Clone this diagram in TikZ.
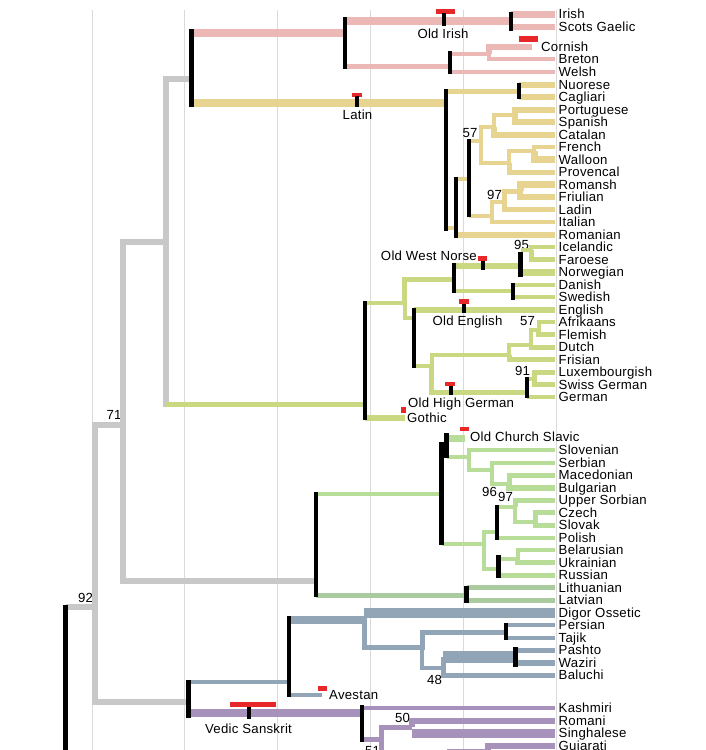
\documentclass[tikz,border=0pt]{standalone}
\usepackage{fontspec}
\newfontfamily\treefont{Liberation Sans}[LetterSpace=2]
\definecolor{celt}{RGB}{235,184,182}
\definecolor{roma}{RGB}{232,212,145}
\definecolor{germ}{RGB}{202,216,130}
\definecolor{slav}{RGB}{184,221,152}
\definecolor{balt}{RGB}{170,202,160}
\definecolor{iran}{RGB}{145,165,182}
\definecolor{indic}{RGB}{166,146,186}
\definecolor{trunkgray}{RGB}{200,200,200}
\definecolor{gridgray}{RGB}{218,218,218}
\definecolor{datered}{RGB}{232,40,40}
\tikzset{
  branch/.style={line width=#1},
  branch/.default=4,
  trunk/.style={draw=trunkgray, line width=5.5pt},
  knot/.style={draw=black, line width=4.5pt},
  gridline/.style={draw=gridgray, line width=1pt},
  lang/.style={anchor=west, inner xsep=3.5pt, inner ysep=0pt, text height=9.5pt, text depth=0pt,
               font=\treefont\fontsize{13.2}{13.2}\selectfont},
  anc/.style={lang, anchor=center, inner xsep=0pt},
}
\begin{document}
\begin{tikzpicture}[x=1pt,y=-1pt]
\path[use as bounding box] (0,0) rectangle (705,750);
\clip (0,0) rectangle (705,750);
% time axis
\foreach \gx in {92,184.5,277.5,370.5,463,556}
  \draw[gridline] (\gx,10) -- (\gx,760);

% splits
\coordinate (root)  at (65.5,607);
\coordinate (n92)   at (95,607);
\coordinate (n71)   at (123,425);
\coordinate (nw)    at (166,242);
\coordinate (ci)    at (191.5,79);
\coordinate (cel)   at (345,33);
\coordinate (gael)  at (511,21);
\coordinate (brit)  at (450,66);
\coordinate (bret)  at (489,53.5);
\coordinate (corn)  at (532,47);
\coordinate (ital)  at (446,103);
\coordinate (sard)  at (519,91);
\coordinate (rom1)  at (456,228);
\coordinate (rom2)  at (469,178.5);
\coordinate (wrom)  at (480.5,141);
\coordinate (ibr)   at (494,127);
\coordinate (pspan) at (515,115);
\coordinate (gallo) at (509,162.5);
\coordinate (oil)   at (534,150.5);
\coordinate (it)    at (492,216);
\coordinate (rhaet) at (504,202);
\coordinate (rf)    at (520,191);
\coordinate (gmc)   at (365,404);
\coordinate (nwg)   at (404.5,302.5);
\coordinate (nord)  at (454,279.5);
\coordinate (wn)    at (520.5,266);
\coordinate (ins)   at (531,250);
\coordinate (en)    at (513,291);
\coordinate (wg)    at (414,317.5);
\coordinate (cwg)   at (431.5,365.5);
\coordinate (frank) at (509,354.5);
\coordinate (lf)    at (531,344.5);
\coordinate (af)    at (538.5,329.5);
\coordinate (hg)    at (527,392);
\coordinate (ug)    at (534,379);
\coordinate (goth)  at (405,418);
\coordinate (bs)    at (316,581);
\coordinate (sl)    at (441.5,494);
\coordinate (ss)    at (446.5,445);
\coordinate (ocs)   at (465,438);
\coordinate (ssl)   at (468.5,456.5);
\coordinate (ss2)   at (491.5,470);
\coordinate (ss3)   at (509,484);
\coordinate (nsl)   at (484,544);
\coordinate (wsl)   at (497,531.5);
\coordinate (cz)    at (515,506.5);
\coordinate (czsk)  at (535,521.5);
\coordinate (esl)   at (498.5,569);
\coordinate (bu)    at (517.5,559);
\coordinate (baltn) at (466.5,595);
\coordinate (ii)    at (188.5,702);
\coordinate (ir)    at (289,682);
\coordinate (ir2)   at (364,620);
\coordinate (ir3)   at (422,647);
\coordinate (pt)    at (506,632);
\coordinate (ir4)   at (443,668);
\coordinate (pw)    at (515.5,657);
\coordinate (ave)   at (322,695);
\coordinate (ind)   at (362,713);
\coordinate (ind2)  at (381,739);
\coordinate (ind3)  at (412,727);
\coordinate (ind4)  at (420,768);
\coordinate (gujn)  at (488,752);
\coordinate (indx)  at (450,768);

% languages
\foreach \lname/\ly/\ltext in {irish/14/Irish, scots/26.5/Scots Gaelic, breton/59/Breton, welsh/71.5/Welsh,
    nuorese/84.5/Nuorese, cagliari/97/Cagliari, portuguese/109.5/Portuguese, spanish/122/Spanish,
    catalan/134.5/Catalan, french/147/French, walloon/159.5/Walloon, provencal/172/Provencal,
    romansh/184.5/Romansh, friulian/197/Friulian, ladin/209.5/Ladin, italian/222/Italian,
    romanian/234.5/Romanian, icelandic/247/Icelandic, faroese/259.5/Faroese, norwegian/272/Norwegian,
    danish/284.5/Danish, swedish/297/Swedish, english/309.5/English, afrikaans/322/Afrikaans,
    flemish/334.5/Flemish, dutch/347/Dutch, frisian/359.5/Frisian, luxembourgish/372/Luxembourgish,
    swissgerman/384.5/Swiss German, german/397/German, slovenian/450/Slovenian, serbian/462.5/Serbian,
    macedonian/475/Macedonian, bulgarian/487.5/Bulgarian, uppersorbian/500/Upper Sorbian,
    czech/512.5/Czech, slovak/525/Slovak, polish/537.5/Polish, belarusian/550/Belarusian,
    ukrainian/562.5/Ukrainian, russian/575/Russian, lithuanian/587.5/Lithuanian, latvian/600/Latvian,
    digor/612.5/Digor Ossetic, persian/625/Persian, tajik/637.5/Tajik, pashto/650/Pashto,
    waziri/662.5/Waziri, baluchi/675/Baluchi, kashmiri/708/Kashmiri, romani/720.5/Romani,
    singhalese/733/Singhalese, gujarati/745.5/Gujarati}
  \node[lang] (\lname) at (555,\ly) {\ltext};
\node[anc, anchor=west] (cornish) at (541,47) {Cornish};
\node[anc] (oldirish) at (443,33.5) {Old Irish};
\node[anc] (latin) at (357.5,114.5) {Latin};
\node[anc, anchor=east] (oldwestnorse) at (477,255.5) {Old West Norse};
\node[anc] (oldenglish) at (467.5,321) {Old English};
\node[anc, anchor=west] (oldhighgerman) at (408,402.5) {Old High German};
\node[anc, anchor=west] (gothic) at (407,417.5) {Gothic};
\node[anc, anchor=west] (oldchurchslavic) at (470,436.5) {Old Church Slavic};
\node[anc, anchor=west] (avestan) at (329,694.5) {Avestan};
\node[anc] (vedic) at (248.5,728.5) {Vedic Sanskrit};
% support values
\foreach \sx/\sy/\sv in {470/132.5/57, 494.5/195/97, 521.5/245/95, 527.5/320.5/57, 522.5/370.5/91,
    489.5/491.5/96, 505.5/497/97, 434.5/680/48, 402.5/718/50, 372.5/750.5/51, 114/415/71, 85.5/597.5/92}
  \node[anc] at (\sx,\sy) {\sv};

% trunk
\draw[trunk] (root) -- (n92);
\draw[trunk] (n92) |- (n71);
\draw[trunk] (n92) |- (ii);
\draw[trunk] (n71) |- (nw);
\draw[trunk] (n71) |- (bs);
\draw[trunk] (nw) |- (ci);
\draw[trunk, line cap=rect] (nw) -- (nw |- gmc);
\draw[germ, branch=5] (nw |- gmc) -- (gmc);

% celtic
\draw[celt, branch=8] (ci |- cel) -- (cel);
\draw[celt, branch=8] (cel |- gael) -- (gael);
\draw[celt, branch=7] (gael |- irish) -- (irish.west);
\draw[celt, branch=6] (gael |- scots) -- (scots.west);
\draw[celt, branch=5] (cel |- brit) -- (brit);
\draw[celt, branch=4] (brit |- bret) -- (bret);
\draw[celt, branch=6] (bret) |- (corn);
\draw[celt, branch=4] (bret) |- (breton.west);
\draw[celt, branch=4] (brit |- welsh) -- (welsh.west);

% romance
\draw[roma, branch=8] (ci |- ital) -- (ital);
\draw[roma, branch=5] (ital |- sard) -- (sard);
\draw[roma, branch=6] (sard |- nuorese) -- (nuorese.west);
\draw[roma, branch=6] (sard |- cagliari) -- (cagliari.west);
\draw[roma, branch=4] (ital |- rom1) -- (rom1);
\draw[roma, branch=6] (rom1 |- romanian) -- (romanian.west);
\draw[roma, branch=4] (rom1 |- rom2) -- (rom2);
\draw[roma, branch=4] (rom2 |- wrom) -- (wrom);
\draw[roma, branch=4] (wrom) |- (ibr);
\draw[roma, branch=4] (ibr) |- (pspan);
\draw[roma, branch=6] (pspan) |- (portuguese.west);
\draw[roma, branch=6] (pspan) |- (spanish.west);
\draw[roma, branch=6] (ibr) |- (catalan.west);
\draw[roma, branch=4] (wrom) |- (gallo);
\draw[roma, branch=4] (gallo) |- (oil);
\draw[roma, branch=4] (oil) |- (french.west);
\draw[roma, branch=7] (oil) |- (walloon.west);
\draw[roma, branch=5] (gallo) |- (provencal.west);
\draw[roma, branch=4] (rom2 |- it) -- (it);
\draw[roma, branch=4] (it) |- (rhaet);
\draw[roma, branch=5] (rhaet) |- (rf);
\draw[roma, branch=7] (rf) |- (romansh.west);
\draw[roma, branch=6] (rf) |- (friulian.west);
\draw[roma, branch=5] (rhaet) |- (ladin.west);
\draw[roma, branch=4] (it) |- (italian.west);

% germanic
\draw[germ, branch=4] (gmc |- nwg) -- (nwg);
\draw[germ, branch=5] (nwg) |- (nord);
\draw[germ, branch=6] (nord |- wn) -- (wn);
\draw[germ, branch=4] (wn |- ins) -- (ins);
\draw[germ, branch=4] (ins) |- (icelandic.west);
\draw[germ, branch=5] (ins) |- (faroese.west);
\draw[germ, branch=7] (wn |- norwegian) -- (norwegian.west);
\draw[germ, branch=4] (nord |- en) -- (en);
\draw[germ, branch=4] (en |- danish) -- (danish.west);
\draw[germ, branch=4] (en |- swedish) -- (swedish.west);
\draw[germ, branch=4] (nwg) |- (wg);
\draw[germ, branch=6] (wg |- english) -- (english.west);
\draw[germ, branch=4] (wg |- cwg) -- (cwg);
\draw[germ, branch=4] (cwg) |- (frank);
\draw[germ, branch=4] (frank) |- (lf);
\draw[germ, branch=4] (lf) |- (af);
\draw[germ, branch=4] (af) |- (afrikaans.west);
\draw[germ, branch=5] (af) |- (flemish.west);
\draw[germ, branch=5] (lf) |- (dutch.west);
\draw[germ, branch=5] (frank) |- (frisian.west);
\draw[germ, branch=5] (cwg) |- (hg);
\draw[germ, branch=4] (hg |- ug) -- (ug);
\draw[germ, branch=5] (ug) |- (luxembourgish.west);
\draw[germ, branch=5] (ug) |- (swissgerman.west);
\draw[germ, branch=4] (hg |- german) -- (german.west);
\draw[germ, branch=6] (gmc |- goth) -- (goth);

% balto-slavic
\draw[slav, branch=4] (bs |- sl) -- (sl);
\draw[slav, branch=4] (sl |- ss) -- (ss);
\draw[slav, branch=7] (ss |- ocs) -- (ocs);
\draw[slav, branch=4] (ss |- ssl) -- (ssl);
\draw[slav, branch=4] (ssl) |- (slovenian.west);
\draw[slav, branch=4] (ssl) |- (ss2);
\draw[slav, branch=4] (ss2) |- (serbian.west);
\draw[slav, branch=4] (ss2) |- (ss3);
\draw[slav, branch=5] (ss3) |- (macedonian.west);
\draw[slav, branch=6] (ss3) |- (bulgarian.west);
\draw[slav, branch=3.5] (sl |- nsl) -- (nsl);
\draw[slav, branch=4] (nsl) |- (wsl);
\draw[slav, branch=4] (wsl |- cz) -- (cz);
\draw[slav, branch=5] (cz) |- (uppersorbian.west);
\draw[slav, branch=4] (cz) |- (czsk);
\draw[slav, branch=5] (czsk) |- (czech.west);
\draw[slav, branch=5] (czsk) |- (slovak.west);
\draw[slav, branch=4] (wsl |- polish) -- (polish.west);
\draw[slav, branch=4] (nsl) |- (esl);
\draw[slav, branch=4] (esl |- bu) -- (bu);
\draw[slav, branch=4] (bu) |- (belarusian.west);
\draw[slav, branch=5] (bu) |- (ukrainian.west);
\draw[slav, branch=5] (esl |- russian) -- (russian.west);
\draw[balt, branch=5] (bs |- baltn) -- (baltn);
\draw[balt, branch=5] (baltn |- lithuanian) -- (lithuanian.west);
\draw[balt, branch=5] (baltn |- latvian) -- (latvian.west);

% indo-iranian
\draw[iran, branch=4] (ii |- ir) -- (ir);
\draw[iran, branch=8] (ir |- ir2) -- (ir2);
\draw[iran, branch=10] (ir2 |- digor) -- (digor.west);
\draw[iran, branch=5, line cap=rect] (ir2) |- (ir3);
\draw[iran, branch=5] (ir3) |- (pt);
\draw[iran, branch=4] (pt |- persian) -- (persian.west);
\draw[iran, branch=4] (pt |- tajik) -- (tajik.west);
\draw[iran, branch=4] (ir3) |- (ir4);
\draw[iran, branch=12] (ir4 |- pw) -- (pw);
\draw[iran, branch=5] (pw |- pashto) -- (pashto.west);
\draw[iran, branch=6] (pw |- waziri) -- (waziri.west);
\draw[iran, branch=5] (ir4 |- pw) |- (baluchi.west);
\draw[iran, branch=4] (ir |- ave) -- (ave);
\draw[indic, branch=8] (ii |- ind) -- (ind);
\draw[indic, branch=4] (ind |- kashmiri) -- (kashmiri.west);
\draw[indic, branch=5] (ind |- ind2) -- (ind2);
\draw[indic, branch=5] (ind2) |- (ind3);
\draw[indic, branch=5] (ind2) |- (ind4);
\draw[indic, branch=6] (ind3) |- (romani.west);
\draw[indic, branch=9] (ind3 |- singhalese) -- (singhalese.west);
\draw[indic, branch=6] (indx) |- (gujn);
\draw[indic, branch=6] (gujn) |- (gujarati.west);

% calibrated splits
\foreach \bx/\ba/\bb in {191.5/29/107, 345/17/69, 511/12/31, 450/51/74, 446/89/231, 519/83/99,
    456/177/238, 469/139/217, 365/301/420, 454/263/293, 520.5/252/277, 513/283/300, 414/308/368,
    527/377/398, 316/492/597, 441.5/442/545, 446.5/433/458, 497/505/540, 498.5/555/578,
    466.5/586/603, 188.5/680/718, 289/616/697, 506/623/640, 515.5/647/667, 362/705/742, 65.5/605/760}
  \draw[knot] (\bx,\ba) -- (\bx,\bb);

% ancient languages
\fill[datered] (436,9) rectangle (455,14);
\fill (442,13) rectangle (446,26);
\fill[datered] (352,93) rectangle (362,97);
\fill (355,96) rectangle (359,107);
\fill[datered] (519,36) rectangle (538,42);
\fill[datered] (478,256) rectangle (487,261);
\fill (481,261) rectangle (485,270);
\fill[datered] (459,299) rectangle (469,304);
\fill (462,304) rectangle (466,313);
\fill[datered] (445,382) rectangle (455,386);
\fill (449,386) rectangle (453,395);
\fill[datered] (401,407) rectangle (406,413);
\fill[datered] (460,427) rectangle (469,431);
\fill[datered] (318,686) rectangle (327,691);
\fill[datered] (230,702) rectangle (276,707);
\fill (247,707) rectangle (251,719);
\end{tikzpicture}
\end{document}
